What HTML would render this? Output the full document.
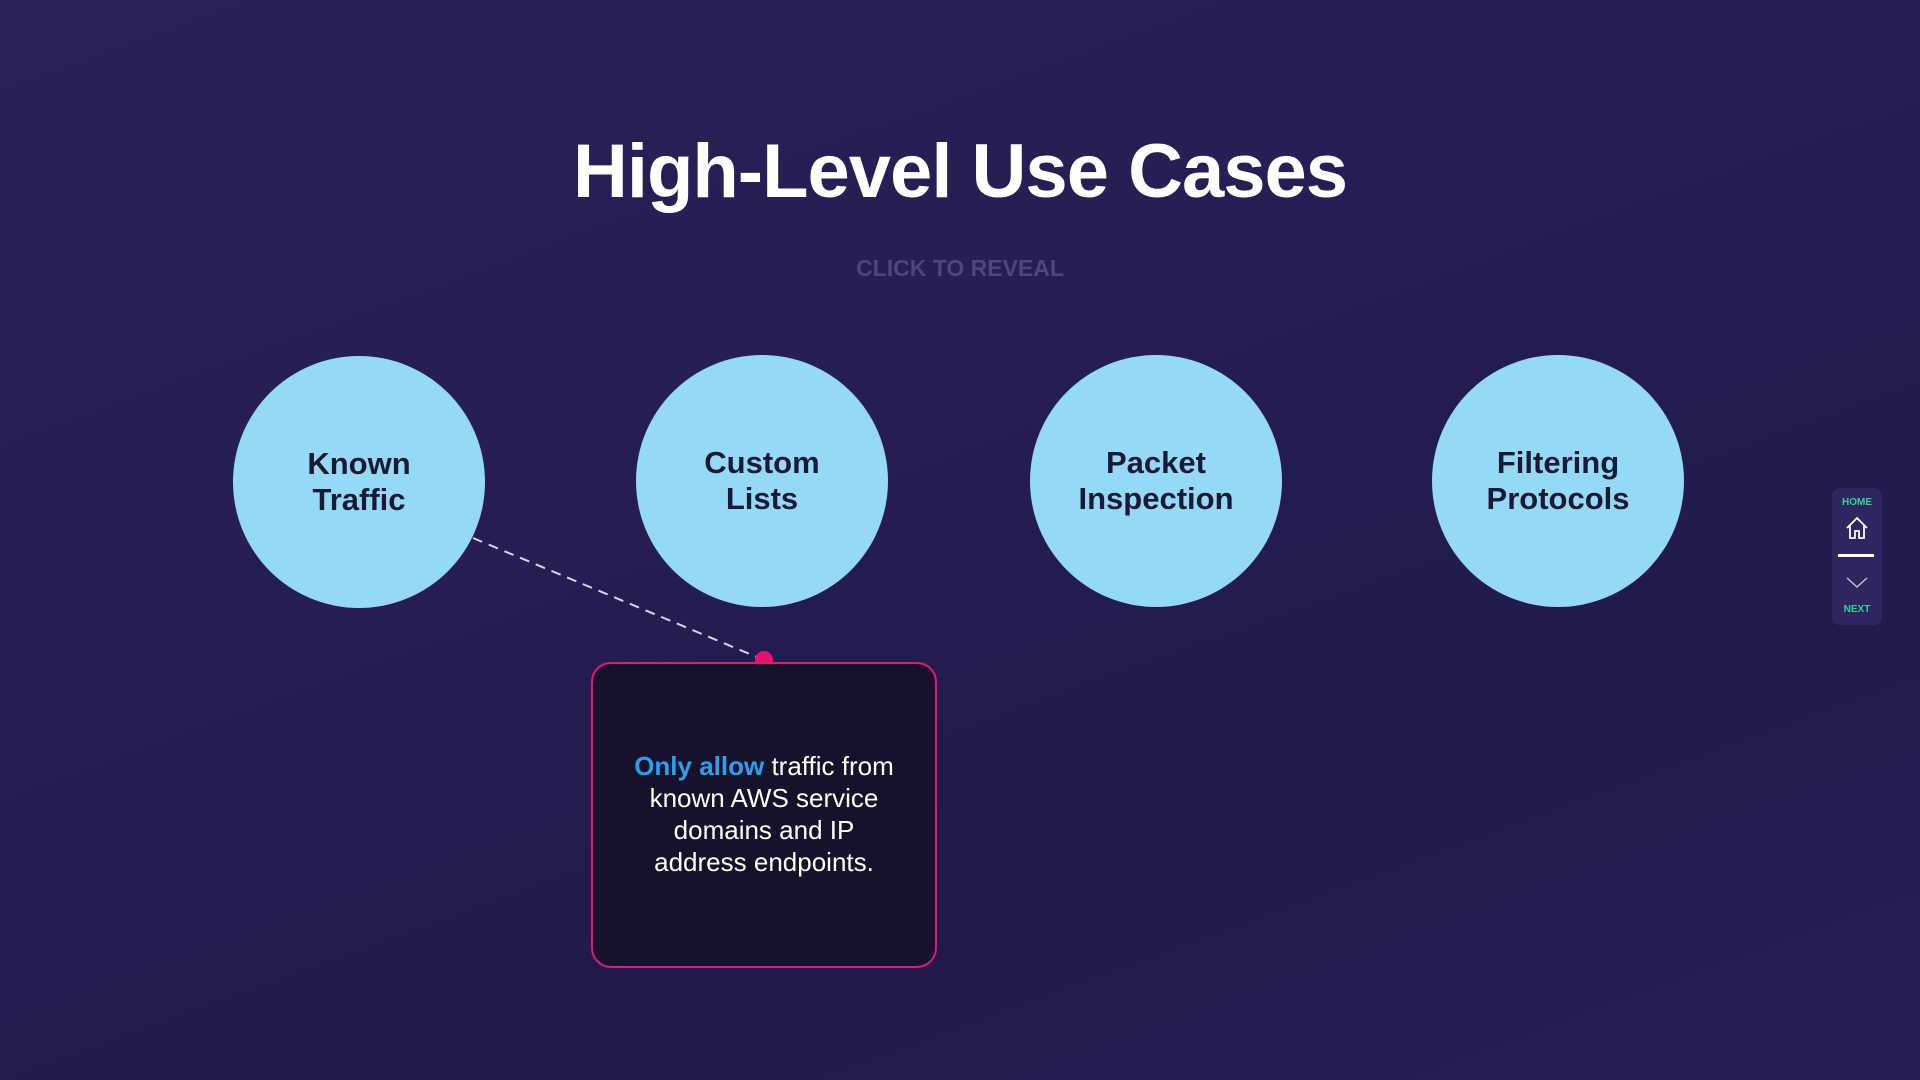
<!DOCTYPE html>
<html><head><meta charset="utf-8"><style>
html,body{margin:0;padding:0}
body{width:1920px;height:1080px;overflow:hidden;position:relative;font-family:"Liberation Sans",sans-serif;
background:linear-gradient(160deg,#2a2156 0%,#261d54 40%,#221a4c 70%,#271e55 100%);}
.title{position:absolute;left:0;width:1920px;top:128px;text-align:center;color:#fff;font-weight:bold;font-size:76px;letter-spacing:-1px}
.sub{position:absolute;left:0;width:1920px;top:255px;text-align:center;color:#4d4878;font-weight:bold;font-size:23px}
.c{position:absolute;width:252px;height:252px;border-radius:50%;background:#94daf7;display:flex;align-items:center;justify-content:center;text-align:center;color:#1b1a35;font-weight:bold;font-size:31px;line-height:36px}
.box{position:absolute;left:591px;top:662px;width:342px;height:302px;border:2px solid #e0197a;border-radius:20px;background:#16122b}
.bt{position:absolute;left:591px;width:346px;top:750px;text-align:center;color:#fff;font-size:26px;line-height:32px}
.nav{position:absolute;left:1832px;top:488px;width:50px;height:137px;border-radius:8px;background:#2e2660}
.g{position:absolute;width:50px;text-align:center;color:#2fd889;font-weight:bold;font-size:10px}
</style></head><body>
<div class="title">High-Level Use Cases</div>
<div class="sub">CLICK TO REVEAL</div>
<svg style="position:absolute;left:0;top:0" width="1920" height="1080">
<line x1="473" y1="538" x2="764" y2="660" stroke="#d8d4f0" stroke-width="2" stroke-dasharray="10,7"/>
<circle cx="764" cy="660" r="9" fill="#e8106e"/>
</svg>
<div class="c" style="left:233px;top:356px">Known<br>Traffic</div>
<div class="c" style="left:636px;top:355px">Custom<br>Lists</div>
<div class="c" style="left:1030px;top:355px">Packet<br>Inspection</div>
<div class="c" style="left:1432px;top:355px">Filtering<br>Protocols</div>
<div class="box"></div>
<div class="bt"><span style="color:#2aa0ee;font-weight:bold">Only allow</span> traffic from<br>known AWS service<br>domains and IP<br>address endpoints.</div>
<div class="nav">
<div class="g" style="top:9px">HOME</div>
<svg style="position:absolute;left:13px;top:28px" width="24" height="24"><path d="M2 12 L12 2 L22 12 M5 9 V22 H10 V15 H14 V22 H19 V9" fill="none" stroke="#fff" stroke-width="1.8"/></svg>
<div style="position:absolute;left:6px;top:66px;width:36px;height:3px;background:#fff"></div>
<svg style="position:absolute;left:13px;top:88px" width="24" height="14"><path d="M2 2 L12 11 L22 2" fill="none" stroke="#ccc" stroke-width="1.3"/></svg>
<div class="g" style="top:116px">NEXT</div>
</div>
</body></html>
